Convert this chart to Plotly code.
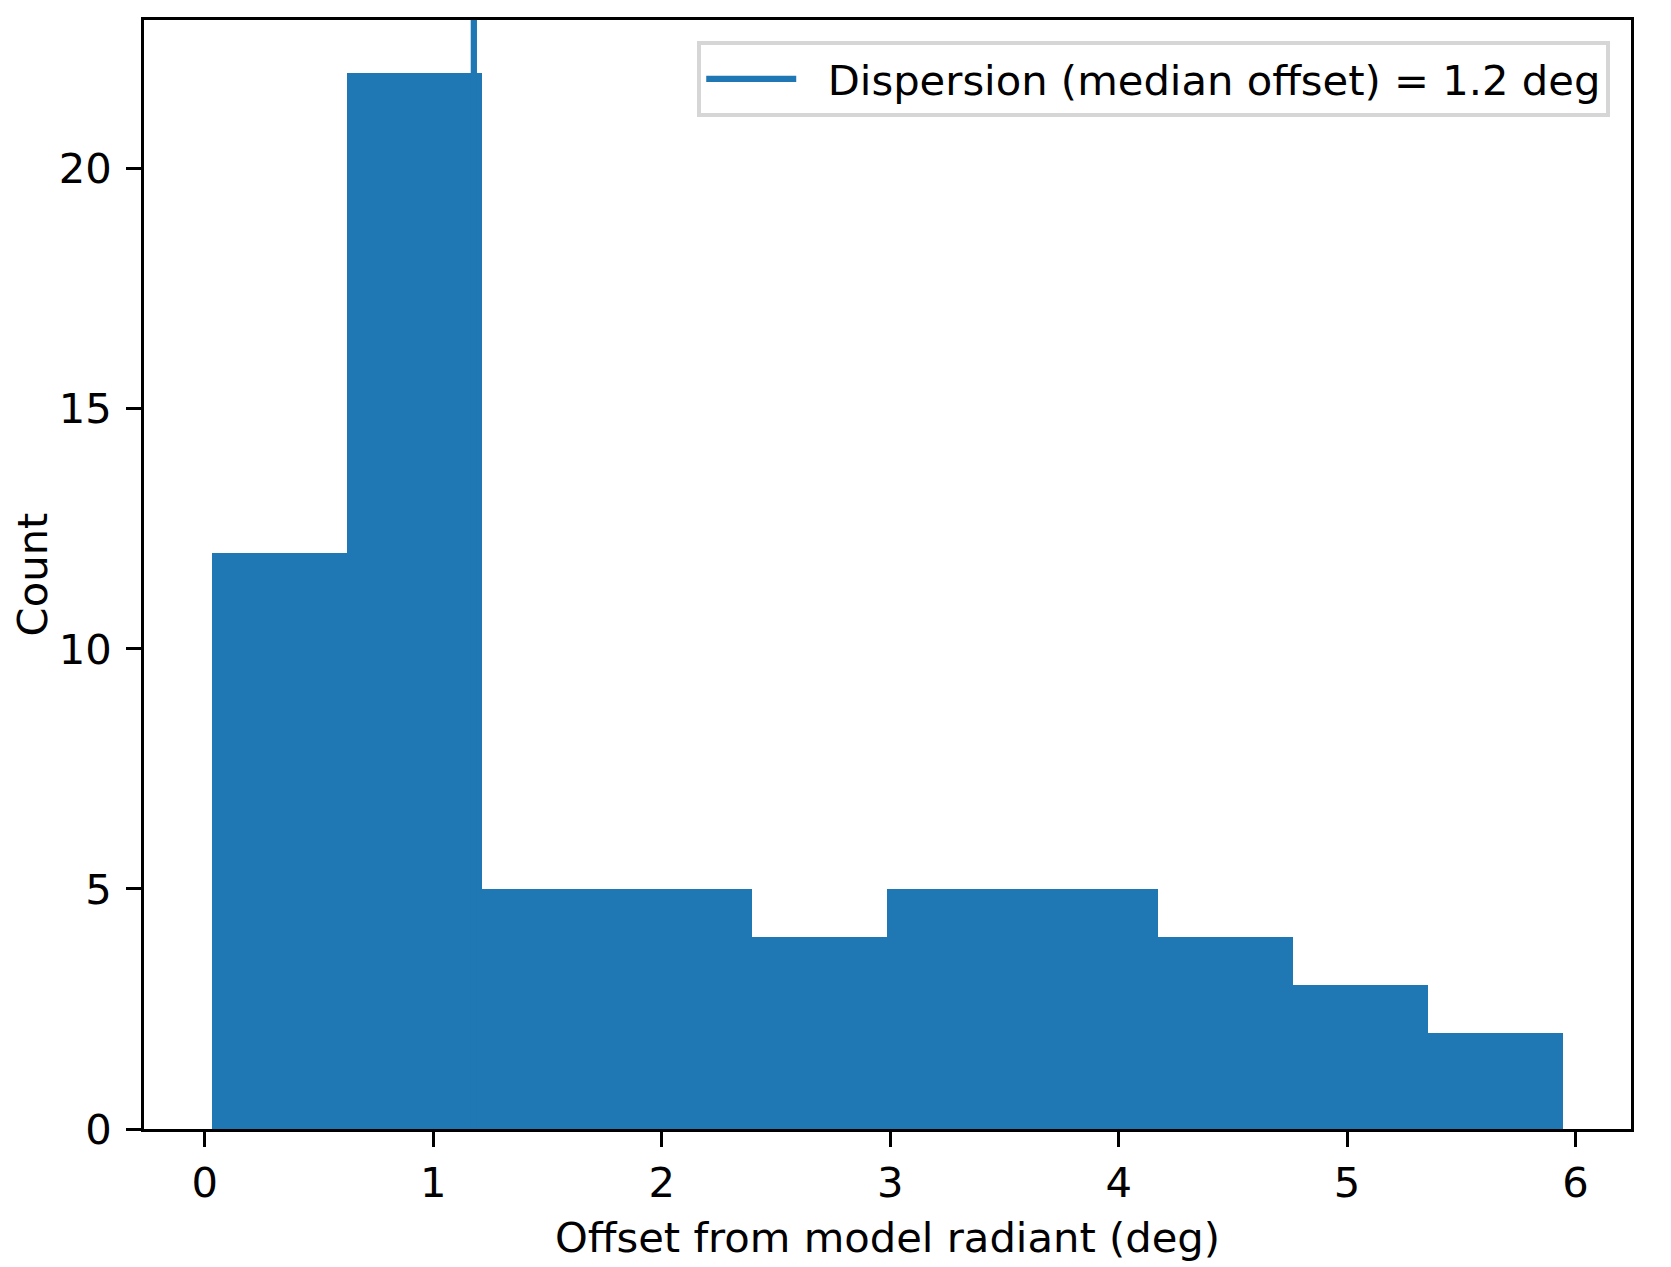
import plotly.graph_objects as go

# Histogram data
bin_edges = [0.033, 0.624, 1.215, 1.806, 2.397, 2.988, 3.580, 4.171, 4.762, 5.353, 5.944]
counts = [12, 22, 5, 5, 4, 5, 5, 4, 3, 2]
median_offset = 1.178
legend_label = "Dispersion (median offset) = 1.2 deg"
x_ticks = [0, 1, 2, 3, 4, 5, 6]
y_ticks = [0, 5, 10, 15, 20]
x_range = [-0.2656, 6.2423]
y_range = [0, 23.1]

centers = [(a + b) / 2 for a, b in zip(bin_edges[:-1], bin_edges[1:])]
widths = [b - a for a, b in zip(bin_edges[:-1], bin_edges[1:])]

BLUE = "#1f77b4"
FONT = "DejaVu Sans"
FS = 41.7

fig = go.Figure()
fig.add_trace(go.Bar(
    x=centers, y=counts, width=widths,
    marker=dict(color=BLUE, line=dict(width=0)),
    showlegend=False, hoverinfo="x+y",
))
fig.add_trace(go.Scatter(
    x=[median_offset, median_offset], y=y_range,
    mode="lines", line=dict(color=BLUE, width=6.25),
    name="\u00a0\u00a0" + legend_label, showlegend=True,
))

axis_common = dict(
    showline=True, linecolor="black", linewidth=3.33, mirror=True,
    ticks="outside", ticklen=14.6, tickwidth=3.33, tickcolor="black",
    showgrid=False, zeroline=False, automargin=False,
    tickfont=dict(family=FONT, size=FS, color="black"),
)

fig.update_layout(
    width=1663, height=1259,
    margin=dict(l=136, r=40, t=12, b=138, pad=0),
    plot_bgcolor="white", paper_bgcolor="white",
    bargap=0,
    font=dict(family=FONT, size=FS, color="black"),
    xaxis=dict(range=x_range, tickvals=x_ticks,
               title=dict(text="Offset from model radiant (deg)",
                          font=dict(family=FONT, size=FS, color="black"), standoff=18),
               **axis_common),
    yaxis=dict(range=y_range, tickvals=y_ticks, ticklabelstandoff=6,
               title=dict(text="Count",
                          font=dict(family=FONT, size=FS, color="black"), standoff=25),
               **axis_common),
    legend=dict(x=0.9859, y=0.981, xanchor="right", yanchor="top",
                bgcolor="white", bordercolor="#d6d6d6", borderwidth=4.2,
                font=dict(family=FONT, size=FS, color="black"),
                itemwidth=90),
)

fig.write_html("out.html")
